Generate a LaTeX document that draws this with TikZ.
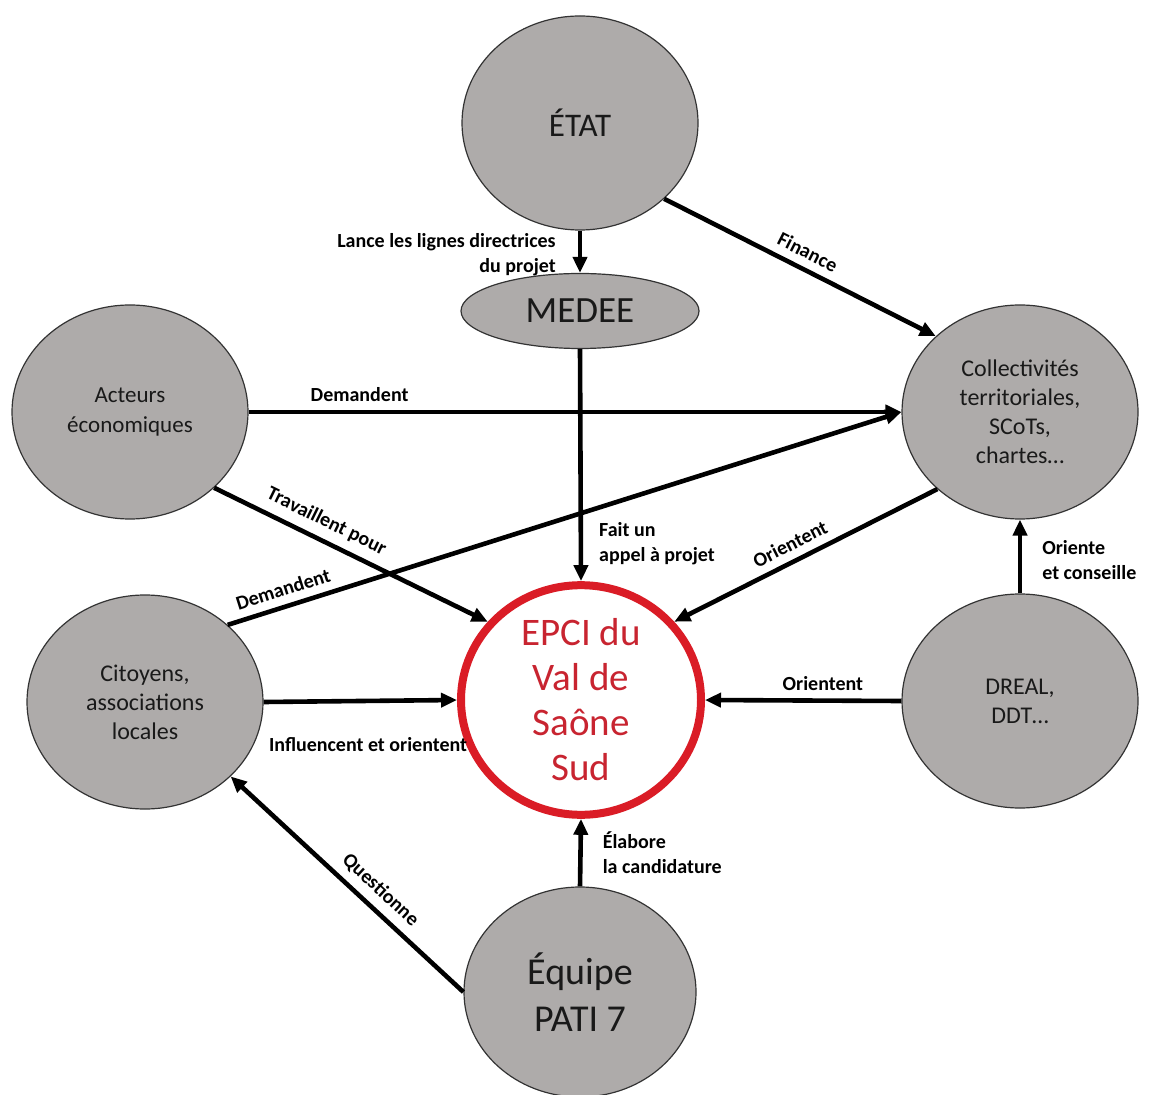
\documentclass[tikz,border=0pt]{standalone}
\usepackage{fontspec}
\setmainfont{Carlito}
\usetikzlibrary{shapes.geometric,arrows.meta}
\definecolor{grisnoeud}{RGB}{174,171,170}
\definecolor{rougeepci}{RGB}{218,28,38}
\definecolor{texteepci}{RGB}{200,36,48}
\tikzset{
  acteur/.style={ellipse, draw=black!80, line width=0.6pt, fill=grisnoeud, text=black!90, inner sep=0pt,
    minimum width=118pt, minimum height=107pt, align=center, font=\fontsize{12}{14.5}\selectfont},
  fleche/.style={-{Triangle[length=8pt,width=7pt]}, line width=2.3pt},
  etiq/.style={font=\bfseries\fontsize{10}{12.5}\selectfont, align=left, inner sep=4pt}
}
\newcommand{\acteurnode}[4] {\node at (#1) (#2) [acteur, #4] {#3};}
\newcommand{\patransition}[4] {\draw [fleche] (#1) -- (#2) node [etiq, #4] {#3};}

\begin{document}
\begin{tikzpicture}[x=0.5pt, y=-0.5pt]
\useasboundingbox (0,0) rectangle (1149,1095);

\acteurnode {580,123}{etat}{ÉTAT}{font=\fontsize{16.5}{19}\selectfont};
\acteurnode {580,311}{medee}{MEDEE}{minimum width=119pt, minimum height=37.5pt, font=\fontsize{18.5}{22}\selectfont};
\acteurnode {130,412}{acteurs}{Acteurs\\économiques}{font=\fontsize{11.5}{15}\selectfont};
\acteurnode {1020,412}{coll}{Collectivités\\territoriales,\\SCoTs,\\chartes…}{};
\acteurnode {145,702}{citoyens}{Citoyens,\\associations\\locales}{};
\acteurnode {581,700}{epci}{EPCI du\\Val de\\Saône\\Sud}{draw=rougeepci, line width=4pt, fill=white, text=texteepci,
  minimum width=120pt, minimum height=108pt, font=\fontsize{19.5}{22.5}\selectfont};
\acteurnode {1020,701}{dreal}{DREAL,\\DDT…}{};
\acteurnode {580,992}{equipe}{Équipe\\PATI 7}{minimum width=116pt, minimum height=105pt, font=\fontsize{19}{23.5}\selectfont};

\patransition{etat.south}{medee.north}{Lance les lignes directrices\\du projet}{pos=0.56, left, align=right, xshift=-7pt};
\patransition{etat.-42}{coll.138}{Finance}{midway, above, sloped};
\patransition{acteurs.east}{coll.west}{Demandent}{pos=0.17, above};
\patransition{acteurs.-42}{epci.140}{Travaillent pour}{pos=0.38, above, sloped};
\patransition{citoyens.43}{coll.west}{Demandent}{pos=0.09, above, sloped};
\patransition{medee.south}{epci.north}{Fait un\\appel à projet}{pos=0.84, right, xshift=4pt};
\patransition{coll.223}{epci.40}{Orientent}{pos=0.53, above, sloped};
\patransition{dreal.north}{coll.south}{Oriente\\et conseille}{pos=0.45, right, xshift=6pt};
\patransition{citoyens.east}{epci.west}{Influencent et orientent}{pos=0.54, below=13pt};
\patransition{dreal.west}{epci.east}{Orientent}{pos=0.4, above};
\patransition{equipe.north}{epci.south}{Élabore\\la candidature}{pos=0.5, right, xshift=6pt};
\patransition{equipe.west}{citoyens.-41}{Questionne}{pos=0.41, above, sloped};
\end{tikzpicture}
\end{document}
